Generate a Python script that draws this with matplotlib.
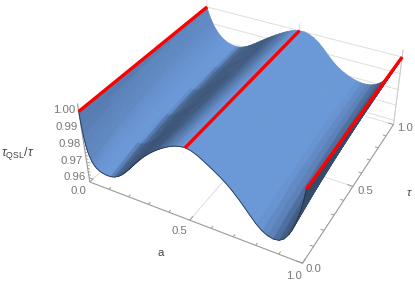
import numpy as np
import matplotlib
matplotlib.use("Agg")
import matplotlib.pyplot as plt

plt.rcParams['font.family'] = ['Liberation Sans', 'DejaVu Sans']
plt.rcParams['mathtext.fontset'] = 'custom'
plt.rcParams['mathtext.rm'] = 'Liberation Sans'
plt.rcParams['mathtext.it'] = 'Liberation Sans:italic'

a_vals = [0.0, 0.002, 0.005, 0.01, 0.015, 0.02, 0.03, 0.04, 0.05, 0.065, 0.08, 0.1, 0.12, 0.14, 0.16, 0.18, 0.2,
          0.22, 0.24, 0.26, 0.28, 0.3, 0.32, 0.34, 0.36, 0.38, 0.4, 0.42, 0.44, 0.46, 0.48, 0.5, 0.525, 0.55, 0.575,
          0.6, 0.625, 0.65, 0.675, 0.7, 0.725, 0.75, 0.775, 0.8, 0.825, 0.85, 0.875, 0.9, 0.92, 0.94, 0.95, 0.96,
          0.97, 0.98, 0.99, 1.0]
drop_tau0 = [0.0, 0.00851, 0.01406, 0.01962, 0.02314, 0.02559, 0.02873, 0.0306, 0.03182, 0.03295, 0.03359, 0.03396,
             0.03385, 0.03317, 0.03186, 0.02996, 0.02758, 0.02488, 0.02202, 0.01918, 0.01645, 0.01391, 0.0116, 0.0095,
             0.00759, 0.00586, 0.0043, 0.00291, 0.00172, 0.00079, 0.0002, 0.0, 0.0005, 0.00182, 0.00363, 0.00562,
             0.00767, 0.00984, 0.01231, 0.01518, 0.01844, 0.02202, 0.02578, 0.02937, 0.03222, 0.03402, 0.03481,
             0.03429, 0.03233, 0.02854, 0.02589, 0.02266, 0.01875, 0.01402, 0.00825, 0.0]
drop_tau1 = [0.0, 0.00143, 0.0026, 0.00426, 0.00577, 0.00718, 0.00969, 0.0118, 0.01358, 0.01575, 0.01742, 0.01902,
             0.0201, 0.02074, 0.02094, 0.02068, 0.01996, 0.01885, 0.01748, 0.01593, 0.01429, 0.01261, 0.01095, 0.00934,
             0.0078, 0.00631, 0.00488, 0.00352, 0.00228, 0.00123, 0.00045, 0.0, 0.0, 0.0007, 0.00217, 0.00435, 0.00718,
             0.01037, 0.01341, 0.01596, 0.01796, 0.01953, 0.02075, 0.02162, 0.02213, 0.02217, 0.02155, 0.0201, 0.01819,
             0.01538, 0.01355, 0.01143, 0.00903, 0.00642, 0.0036, 0.0]
tau_vals = [0, .2, .4, .6, .8, 1]
tau_mix = [0, .35, .6, .78, .9, 1]
z_ticks = [.96, .97, .98, .99, 1.0]
red_a = [0, .5, 1]
ZLO, ZHI = .9572, 1.0045

W, H = 415, 285
fig = plt.figure(figsize=(W/100, H/100), dpi=100)
rect = [0.1896229, 0.0008848, 0.7971610, 1.1607782]
ax = fig.add_axes(rect, projection='3d', proj_type='persp', focal_length=0.441837, computed_zorder=False)
ax.view_init(35.63672, -61.55469, 0.24316)
ax.set_box_aspect((1, 1.001465, 0.407617))
ax.set_xlim(0, 1, view_margin=0); ax.set_ylim(0, 1, view_margin=0); ax.set_zlim(ZLO, ZHI, view_margin=0)
ax.set_axis_off()
ax.patch.set_visible(False)

a = np.array(a_vals); t = np.array(tau_vals); m = np.array(tau_mix)
A_, T_ = np.meshgrid(a, t)
Z = 1 - (np.outer(1-m, drop_tau0) + np.outer(m, drop_tau1))
base = np.array([0.42, 0.595, 0.845])
slope = np.diff(Z, axis=1)/np.diff(a)
slope = (slope[:-1]+slope[1:])/2
bm = np.interp(slope, [-2, -.3, -.1, -.05, 0, .02, .04, .07, .1, .135, .2, .3, .5, 1],
               [.82, .90, .98, 1, 1, .88, .72, .62, .57, .54, .50, .44, .33, .24])
a_mid = (a[:-1]+a[1:])/2
lift = np.interp(a_mid, [.36, .44, .5], [0, .5, 1])
bm = bm + (1-bm)*lift
bm = bm*np.interp(a_mid, [.8, .86, .92, 1], [1, .87, .58, .48])
fc = np.zeros(slope.shape+(4,))
fc[..., :3] = base*bm[..., None]
fc[..., 3] = 1

GRID = '#dedede'; AX = '#9a9a9a'
def L(x, y, z, c=GRID, lw=.7, zo=1):
    ax.plot(x, y, z, color=c, lw=lw, zorder=zo, solid_capstyle='butt', clip_on=False)
for z in z_ticks:
    L([0,1],[1,1],[z,z])
for x in [0,.5,1]:
    L([x,x],[1,1],[ZLO,ZHI])
L([.5,.5],[0,1],[ZLO,ZLO]); L([0,1],[.5,.5],[ZLO,ZLO]); L([0,0],[0,1],[ZLO,ZLO]); L([0,1],[1,1],[ZLO,ZLO])
L([1,1],[1,1],[ZLO,ZHI], c='#cccccc')
L([0,1],[0,0],[ZLO,ZLO],AX,.8,1.5); L([1,1],[0,1],[ZLO,ZLO],AX,.8,1.5); L([0,0],[0,0],[ZLO,ZHI],AX,.8,1.5)
for i in range(11):
    v = i/10; l = .025 if i % 5 == 0 else .015
    L([v,v],[0,l],[ZLO,ZLO],AX,.7,1.5); L([1,1-l],[v,v],[ZLO,ZLO],AX,.7,1.5)
for i in range(0, 21):
    v = .96+i*.002; l = .02 if i % 5 == 0 else .012
    L([0,l],[0,0],[v,v],AX,.6,1.5)
ax.plot_surface(A_, T_, Z, facecolors=fc, rstride=1, cstride=1, shade=False, linewidth=.5, antialiased=True, zorder=2)
ax.plot(a, np.zeros_like(a), Z[0], color='#26364f', lw=.6, zorder=3, clip_on=False)
for x in red_a:
    ax.plot([x,x],[0,1],[1,1],color='#ff0000',lw=2.4,zorder=5,solid_capstyle='butt',clip_on=False)

def tx_(x, y, s, c='#777777', size=8.2):
    fig.text(x/W, 1-y/H, s, color=c, fontsize=size, ha='center', va='center', zorder=10)
for (x,y,s) in [(64,110,'1.00'),(67,127,'0.99'),(69.5,144,'0.98'),(72,161,'0.97'),(74.5,177,'0.96'),
                (78.5,191,'0.0'),(179.5,231,'0.5'),(294,276,'1.0'),(313,269,'0.0'),(365,191,'0.5'),(405.5,128,'1.0')]:
    tx_(x,y,s)
tx_(161,253,'a','#444444')
tx_(409,193,r'$\tau$','#444444')
tx_(18,153,r'$\tau_{\mathrm{QSL}}/\tau$','#444444',size=9)
fig.savefig('out.png', dpi=100)
